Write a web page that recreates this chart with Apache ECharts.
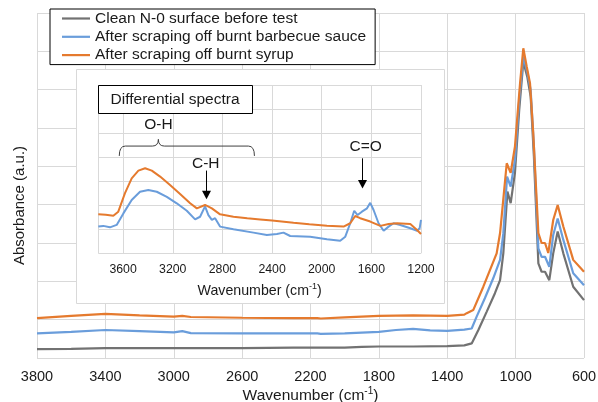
<!DOCTYPE html>
<html>
<head>
<meta charset="utf-8">
<script src="https://cdn.jsdelivr.net/npm/echarts@6/dist/echarts.min.js"></script>
<style>html,body{margin:0;padding:0;background:#fff}#c{width:598px;height:402px}</style>
</head>
<body>
<div id="c"></div>
<script>
// ---------- Data ----------
const seriesNames = ['Clean N-0 surface before test', 'After scraping off burnt barbecue sauce', 'After scraping off burnt syrup'];
const xTicksMain = [3800, 3400, 3000, 2600, 2200, 1800, 1400, 1000, 600];
const xTicksInset = [3600, 3200, 2800, 2400, 2000, 1600, 1200];

const cleanWn  = [3800,3600,3400,3000,2600,2300,2160,2150,2140,2000,1900,1800,1600,1400,1300,1257,1218,1169,1121,1091,1072,1048,1029,1004,979,955,932,912,893,867,848,828,803,780,754,721,663,600];
const cleanAbs = [0.23,0.24,0.26,0.26,0.26,0.27,0.27,0.23,0.27,0.27,0.29,0.30,0.30,0.31,0.33,0.38,0.73,1.21,1.69,2.03,2.73,4.34,4.04,4.83,6.47,7.73,7.34,6.82,5.25,2.47,2.25,2.25,2.03,2.73,3.30,2.73,1.86,1.51];

const bbqWn  = [3800,3600,3400,3200,3000,2950,2900,2600,2300,2160,2150,2140,2000,1800,1700,1600,1500,1400,1300,1257,1228,1180,1131,1091,1072,1050,1029,1004,979,955,932,912,893,867,848,828,803,780,754,721,663,600];
const bbqAbs = [0.64,0.68,0.73,0.70,0.67,0.70,0.65,0.64,0.64,0.64,0.60,0.63,0.64,0.68,0.73,0.76,0.72,0.71,0.74,0.77,1.08,1.56,2.08,2.56,3.25,4.73,4.47,5.17,6.73,7.86,7.47,6.99,5.51,2.86,2.64,2.64,2.38,3.21,3.64,3.08,2.21,1.90];

const syrupWn  = [3800,3600,3400,3200,3000,2950,2900,2600,2300,2160,2150,2140,2000,1800,1600,1400,1300,1286,1248,1189,1111,1091,1052,1029,1004,974,955,935,916,897,867,848,828,809,780,754,721,663,600];
const syrupAbs = [1.04,1.10,1.15,1.11,1.08,1.10,1.07,1.05,1.04,1.04,1.00,1.03,1.06,1.10,1.11,1.10,1.13,1.17,1.25,1.86,2.73,3.26,5.08,4.83,5.51,7.17,8.08,7.60,7.17,5.87,3.26,3.00,3.00,2.74,3.60,3.99,3.43,2.56,2.25];

// Differential spectra (inset)
const diffBbqWn  = [3800,3760,3706,3652,3598,3531,3464,3397,3329,3248,3168,3087,3020,2980,2940,2913,2885,2859,2819,2711,2550,2442,2361,2308,2254,2093,1958,1851,1810,1770,1738,1711,1676,1635,1609,1582,1542,1501,1461,1421,1367,1286,1232,1211,1200];
const diffBbqAbs = [1.11,1.14,1.08,1.18,1.66,2.22,2.56,2.63,2.56,2.35,2.08,1.77,1.41,1.52,1.95,1.59,1.39,1.46,1.11,1.00,0.86,0.76,0.80,0.86,0.72,0.69,0.58,0.52,0.69,1.25,1.77,1.59,1.73,1.87,2.10,1.80,1.25,0.94,1.11,1.25,1.18,1.04,0.94,1.04,1.39];

const diffSyrupWn  = [3800,3740,3679,3639,3585,3531,3477,3423,3369,3302,3222,3141,3060,3006,2940,2885,2819,2711,2600,2496,2400,2227,2100,1958,1824,1770,1730,1690,1609,1528,1461,1393,1286,1232,1200];
const diffSyrupAbs = [1.62,1.60,1.56,1.73,2.50,3.12,3.44,3.54,3.44,3.19,2.84,2.47,2.08,1.87,2.01,1.87,1.62,1.52,1.46,1.41,1.36,1.27,1.21,1.15,1.11,1.25,1.55,1.46,1.32,1.14,1.22,1.25,1.22,0.97,0.80];

// ---------- Styles ----------
const FONT = "'Liberation Sans', Arial, sans-serif";
const TXT = '#1a1a1a';
const GRID = '#d9d9d9';
const colors = ['#727272', '#6a9ddb', '#e57a2e'];

const zip = (a, b) => a.map((v, i) => [v, b[i]]);
const plain = v => String(v);

const chart = echarts.init(document.getElementById('c'), null, {renderer: 'canvas', width: 598, height: 402});

chart.setOption({
  animation: false,
  backgroundColor: '#fff',
  textStyle: {fontFamily: FONT},
  legend: {
    data: seriesNames,
    orient: 'vertical',
    left: 50, top: 9,
    padding: [1.5, 9, 1.5, 12],
    itemGap: 2.3,
    icon: 'rect',
    itemWidth: 28, itemHeight: 2.2,
    borderColor: '#000', borderWidth: 1, backgroundColor: '#fff', borderRadius: 0,
    textStyle: {fontSize: 15.5, color: TXT, fontFamily: FONT, lineHeight: 16},
    z: 6
  },
  grid: [
    {left: 37, right: 14, top: 13, bottom: 44, outerBoundsMode: 'none', containLabel: false},
    {left: 98.3, right: 177, top: 85, bottom: 148.7, outerBoundsMode: 'none', containLabel: false, show: true, backgroundColor: '#fff', borderWidth: 0, z: 3}
  ],
  xAxis: [
    {
      gridIndex: 0, type: 'value', inverse: true, min: 600, max: 3800, interval: 400,
      axisLine: {show: false}, axisTick: {show: false},
      axisLabel: {fontSize: 14.5, color: TXT, margin: 11, fontFamily: FONT, formatter: plain},
      splitLine: {lineStyle: {color: GRID, width: 1}},
      name: 'Wavenumber (cm{s|-1})', nameLocation: 'middle', nameGap: 28, nameMoveOverlap: false,
      nameTextStyle: {fontSize: 15.5, color: TXT, fontFamily: FONT, rich: {s: {fontSize: 10, fontFamily: FONT, color: TXT, padding: [0, 0, 9, 0]}}}
    },
    {
      gridIndex: 1, type: 'value', inverse: true, min: 1200, max: 3800, interval: 400, z: 3,
      axisLine: {show: false}, axisTick: {show: false},
      axisLabel: {fontSize: 12.3, color: TXT, margin: 10, fontFamily: FONT, showMaxLabel: false, formatter: plain},
      splitLine: {lineStyle: {color: GRID, width: 1}},
      name: 'Wavenumber (cm{s|-1})', nameLocation: 'middle', nameGap: 29, nameMoveOverlap: false,
      nameTextStyle: {fontSize: 14.2, color: TXT, fontFamily: FONT, rich: {s: {fontSize: 9, fontFamily: FONT, color: TXT, padding: [0, 0, 8, 0]}}}
    }
  ],
  yAxis: [
    {
      gridIndex: 0, type: 'value', min: 0, max: 9, interval: 1,
      axisLine: {show: false}, axisTick: {show: false}, axisLabel: {show: false},
      splitLine: {lineStyle: {color: GRID, width: 1}}
    },
    {
      gridIndex: 1, type: 'value', min: 0, max: 7, interval: 1, z: 3,
      axisLine: {show: false}, axisTick: {show: false}, axisLabel: {show: false},
      splitLine: {lineStyle: {color: GRID, width: 1}}
    }
  ],
  series: [
    {name: seriesNames[0], type: 'line', xAxisIndex: 0, yAxisIndex: 0, symbol: 'none', data: zip(cleanWn, cleanAbs), lineStyle: {color: colors[0], width: 2.2}, itemStyle: {color: colors[0]}, z: 2},
    {name: seriesNames[1], type: 'line', xAxisIndex: 0, yAxisIndex: 0, symbol: 'none', data: zip(bbqWn, bbqAbs), lineStyle: {color: colors[1], width: 2.2}, itemStyle: {color: colors[1]}, z: 2},
    {name: seriesNames[2], type: 'line', xAxisIndex: 0, yAxisIndex: 0, symbol: 'none', data: zip(syrupWn, syrupAbs), lineStyle: {color: colors[2], width: 2.2}, itemStyle: {color: colors[2]}, z: 2},
    {name: seriesNames[1], type: 'line', xAxisIndex: 1, yAxisIndex: 1, symbol: 'none', data: zip(diffBbqWn, diffBbqAbs), lineStyle: {color: colors[1], width: 2}, itemStyle: {color: colors[1]}, z: 5},
    {name: seriesNames[2], type: 'line', xAxisIndex: 1, yAxisIndex: 1, symbol: 'none', data: zip(diffSyrupWn, diffSyrupAbs), lineStyle: {color: colors[2], width: 2}, itemStyle: {color: colors[2]}, z: 5}
  ]
});

// ---------- Annotations, placed in inset data coordinates ----------
const P = (wn, v) => chart.convertToPixel({xAxisIndex: 1, yAxisIndex: 1}, [wn, v]);
const ann = {
  box: {wn0: 3800, v0: 7, wn1: 2563, v1: 5.82, text: 'Differential spectra'},
  brace: {left: 3631, right: 2542, tip: 3316, legV: 4.05, barV: 4.46, tipV: 4.74},
  oh: {wn: 3316, v: 5.34, text: 'O-H'},
  ch: {wn: 2934, textV: 3.74, fromV: 3.44, toV: 2.25, text: 'C-H'},
  co: {wn: 1676, textWn: 1645, textV: 4.43, fromV: 3.95, toV: 2.70, text: 'C=O'}
};

const els = [];
// outer white inset frame
const tl = P(3800, 7), br = P(1200, 0);
els.push({type: 'rect', z: 1, shape: {x: Math.round(tl[0] - 22.8) + 0.5, y: Math.round(tl[1] - 16.5) + 0.5, width: Math.round((br[0] - tl[0]) + 45), height: Math.round((br[1] - tl[1]) + 65.7)},
  style: {fill: '#fff', stroke: GRID, lineWidth: 1}});

// label box
const b0 = P(ann.box.wn0, ann.box.v0), b1 = P(ann.box.wn1, ann.box.v1);
els.push({type: 'rect', z: 10, shape: {x: Math.round(b0[0]) + 0.5, y: Math.round(b0[1]) + 0.5, width: Math.round(b1[0] - b0[0]), height: Math.round(b1[1] - b0[1])},
  style: {fill: '#fff', stroke: '#000', lineWidth: 1}});
els.push({type: 'text', z: 11, x: (b0[0] + b1[0]) / 2, y: (b0[1] + b1[1]) / 2 + 1,
  style: {text: ann.box.text, fontSize: 15.5, fontFamily: FONT, fill: TXT, textAlign: 'center', textVerticalAlign: 'middle'}});

// brace built from quadratic curves and straight segments
const bc = ann.brace;
const xl = P(bc.left, 0)[0], xr = P(bc.right, 0)[0], xt = P(bc.tip, 0)[0];
const yl = P(3800, bc.legV)[1], yb = P(3800, bc.barV)[1], yt = P(3800, bc.tipV)[1];
const r = 6;
const braceStyle = {stroke: '#404040', lineWidth: 1, fill: null};
els.push({type: 'bezierCurve', z: 10, shape: {x1: xl, y1: yl, cpx1: xl, cpy1: yb, x2: xl + r, y2: yb}, style: braceStyle});
els.push({type: 'line', z: 10, shape: {x1: xl + r, y1: yb, x2: xt - r, y2: yb}, style: braceStyle});
els.push({type: 'bezierCurve', z: 10, shape: {x1: xt - r, y1: yb, cpx1: xt, cpy1: yb, x2: xt, y2: yt}, style: braceStyle});
els.push({type: 'bezierCurve', z: 10, shape: {x1: xt, y1: yt, cpx1: xt, cpy1: yb, x2: xt + r, y2: yb}, style: braceStyle});
els.push({type: 'line', z: 10, shape: {x1: xt + r, y1: yb, x2: xr - r, y2: yb}, style: braceStyle});
els.push({type: 'bezierCurve', z: 10, shape: {x1: xr - r, y1: yb, cpx1: xr, cpy1: yb, x2: xr, y2: yl}, style: braceStyle});

const oh = P(ann.oh.wn, ann.oh.v);
els.push({type: 'text', z: 11, x: oh[0], y: oh[1], style: {text: ann.oh.text, fontSize: 15.5, fontFamily: FONT, fill: TXT, textAlign: 'center', textVerticalAlign: 'middle'}});

function arrow(wn, fromV, toV) {
  const a = P(wn, fromV), b = P(wn, toV);
  const x = Math.round(a[0]) + 0.5;
  els.push({type: 'line', z: 10, shape: {x1: x, y1: a[1], x2: x, y2: b[1] - 7}, style: {stroke: '#000', lineWidth: 1}});
  els.push({type: 'polygon', z: 10, shape: {points: [[x - 4.5, b[1] - 8.5], [x + 4.5, b[1] - 8.5], [x, b[1]]]}, style: {fill: '#000'}});
}
const chT = P(ann.ch.wn, ann.ch.textV);
els.push({type: 'text', z: 11, x: chT[0], y: chT[1], style: {text: ann.ch.text, fontSize: 15.5, fontFamily: FONT, fill: TXT, textAlign: 'center', textVerticalAlign: 'middle'}});
arrow(ann.ch.wn, ann.ch.fromV, ann.ch.toV);
const coT = P(ann.co.textWn, ann.co.textV);
els.push({type: 'text', z: 11, x: coT[0], y: coT[1], style: {text: ann.co.text, fontSize: 15.5, fontFamily: FONT, fill: TXT, textAlign: 'center', textVerticalAlign: 'middle'}});
arrow(ann.co.wn, ann.co.fromV, ann.co.toV);

// y axis title
els.push({type: 'text', z: 11, x: 20, y: 205.5, rotation: Math.PI / 2,
  style: {text: 'Absorbance (a.u.)', fontSize: 15, fontFamily: FONT, fill: TXT, textAlign: 'center', textVerticalAlign: 'middle'}});

chart.setOption({graphic: {elements: els}});
</script>
</body>
</html>
